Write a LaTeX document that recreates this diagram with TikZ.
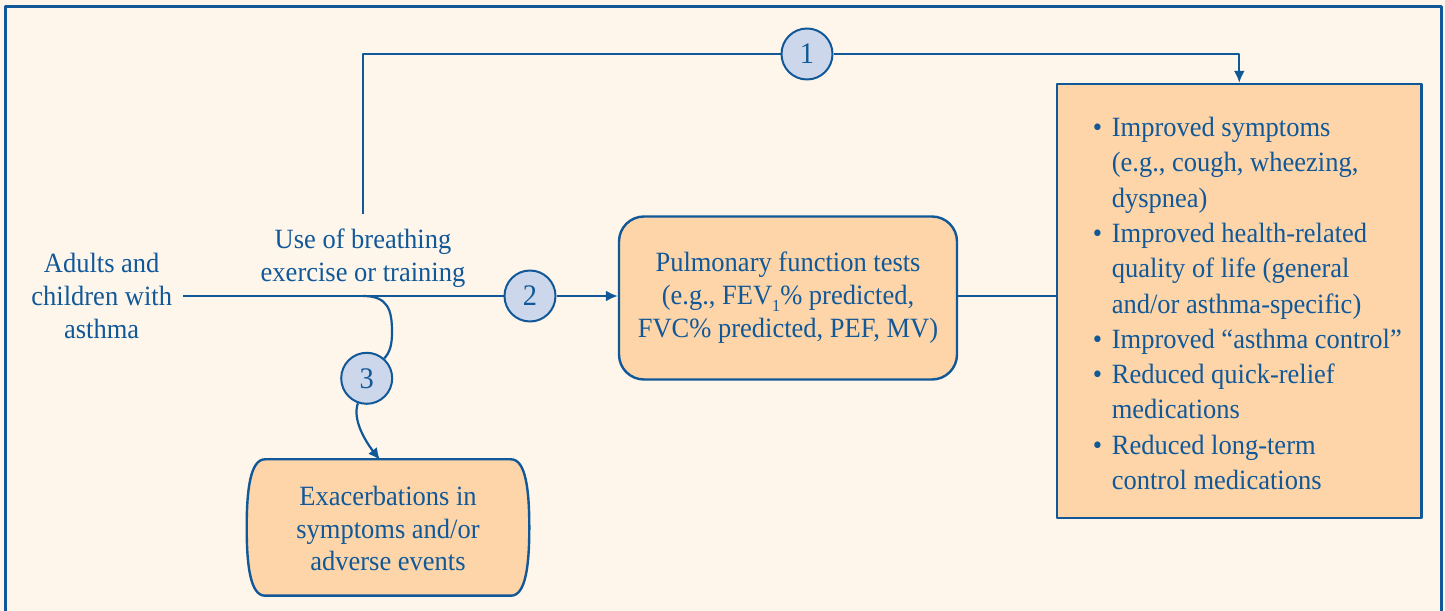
\documentclass[tikz,border=0pt]{standalone}
\usepackage{fontspec}
\setmainfont{Liberation Serif}[FakeStretch=0.95]
\usetikzlibrary{arrows.meta}
\usetikzlibrary{shapes}

\begin{document}
\begin{tikzpicture}[>={Latex[length=12bp,width=11bp]},line join=bevel,
  every node/.style={text=flowblue,font=\fontsize{28}{33}\selectfont},
  flowline/.style={draw=flowblue,line width=2.2bp},
  outcomebox/.style={draw=flowblue,fill=boxfill,line width=2.4bp,rectangle},
  numcircle/.style={circle,draw=flowblue,fill=circfill,line width=2bp,minimum size=51bp,inner sep=0pt,font=\fontsize{30}{30}\selectfont}]
%%
  \definecolor{flowblue}{RGB}{17,88,153}
  \definecolor{pagecol}{RGB}{254,246,235}
  \definecolor{boxfill}{RGB}{253,213,168}
  \definecolor{circfill}{RGB}{204,215,235}
  \useasboundingbox (0bp,0bp) rectangle (1445bp,611bp);
  \fill [pagecol] (0bp,0bp) rectangle (1445bp,611bp);
  \draw [flowblue,line width=3bp] (5bp,604.5bp) rectangle (1441.5bp,-10bp);
%
  \node (Adults) at (101.7bp,315.0bp) [align=center,inner sep=11bp] {Adults and\\children with\\asthma};
  \node (Breathing) at (363.0bp,353.0bp) [align=center,inner sep=11bp] {Use of breathing\\exercise or training};
  \node (Pulmonary) at (788.0bp,313.0bp) [outcomebox,rounded corners=25bp,minimum width=338bp,minimum height=163bp,align=center] {Pulmonary function tests\\(e.g., FEV\raisebox{-7bp}{\fontsize{17}{17}\selectfont 1}\% predicted,\\FVC\% predicted, PEF, MV)};
  \node (Outcomes) at (1239.3bp,310.0bp) [outcomebox,minimum width=364.5bp,minimum height=434bp,font=\fontsize{28}{35.4}\selectfont] {\hspace*{16bp}\raisebox{-5bp}[\height][\depth]{\begin{tabular}{@{}l@{}l@{}}
    \makebox[19bp][l]{\textbullet} & Improved symptoms\\
     & (e.g., cough, wheezing,\\
     & dyspnea)\\
    \textbullet & Improved health-related\\
     & quality of life (general\\
     & and/or asthma-specific)\\
    \textbullet & Improved ``asthma control''\\
    \textbullet & Reduced quick-relief\\
     & medications\\
    \textbullet & Reduced long-term\\
     & control medications
  \end{tabular}}};
  \draw [outcomebox] (265.0bp,151.7bp) -- (511.0bp,151.7bp) ..controls (526.0bp,151.7bp) and (529.3bp,120.0bp) .. (529.3bp,83.5bp)
    ..controls (529.3bp,47.0bp) and (526.0bp,15.3bp) .. (511.0bp,15.3bp) -- (265.0bp,15.3bp)
    ..controls (250.0bp,15.3bp) and (246.7bp,47.0bp) .. (246.7bp,83.5bp)
    ..controls (246.7bp,120.0bp) and (250.0bp,151.7bp) .. cycle;
  \node (Exacerbations) at (388.0bp,82.5bp) [minimum width=282.6bp,minimum height=136.4bp,align=center] {Exacerbations in\\symptoms and/or\\adverse events};
%
  \node (KQone) at (807.0bp,557.0bp) [numcircle] {1};
  \node (KQtwo) at (530.0bp,315.0bp) [numcircle] {2};
  \node (KQthree) at (366.7bp,232.7bp) [numcircle] {3};
  \coordinate (Fork) at (363.0bp,315.0bp);
%
  \draw [flowline] ([yshift=4bp]Breathing.north) |- (KQone);
  \draw [flowline,->] (KQone) -| (Outcomes.north);
  \draw [flowline] (Adults.east) -- (KQtwo);
  \draw [flowline,->] (KQtwo) -- (Pulmonary.west |- KQtwo);
  \draw [flowline] (Pulmonary.east |- KQtwo) -- (Outcomes.west |- KQtwo);
  \draw [flowline] (Fork) ..controls (388.0bp,315.0bp) and (392.0bp,301.0bp) .. (392.0bp,279.0bp)
    ..controls (392.0bp,266.0bp) and (390.0bp,259.0bp) .. (KQthree);
  \draw [flowline,->] (KQthree) ..controls (352.0bp,191.0bp) and (366.0bp,169.0bp) .. ([xshift=-8bp]Exacerbations.north);
%
\end{tikzpicture}
\end{document}
